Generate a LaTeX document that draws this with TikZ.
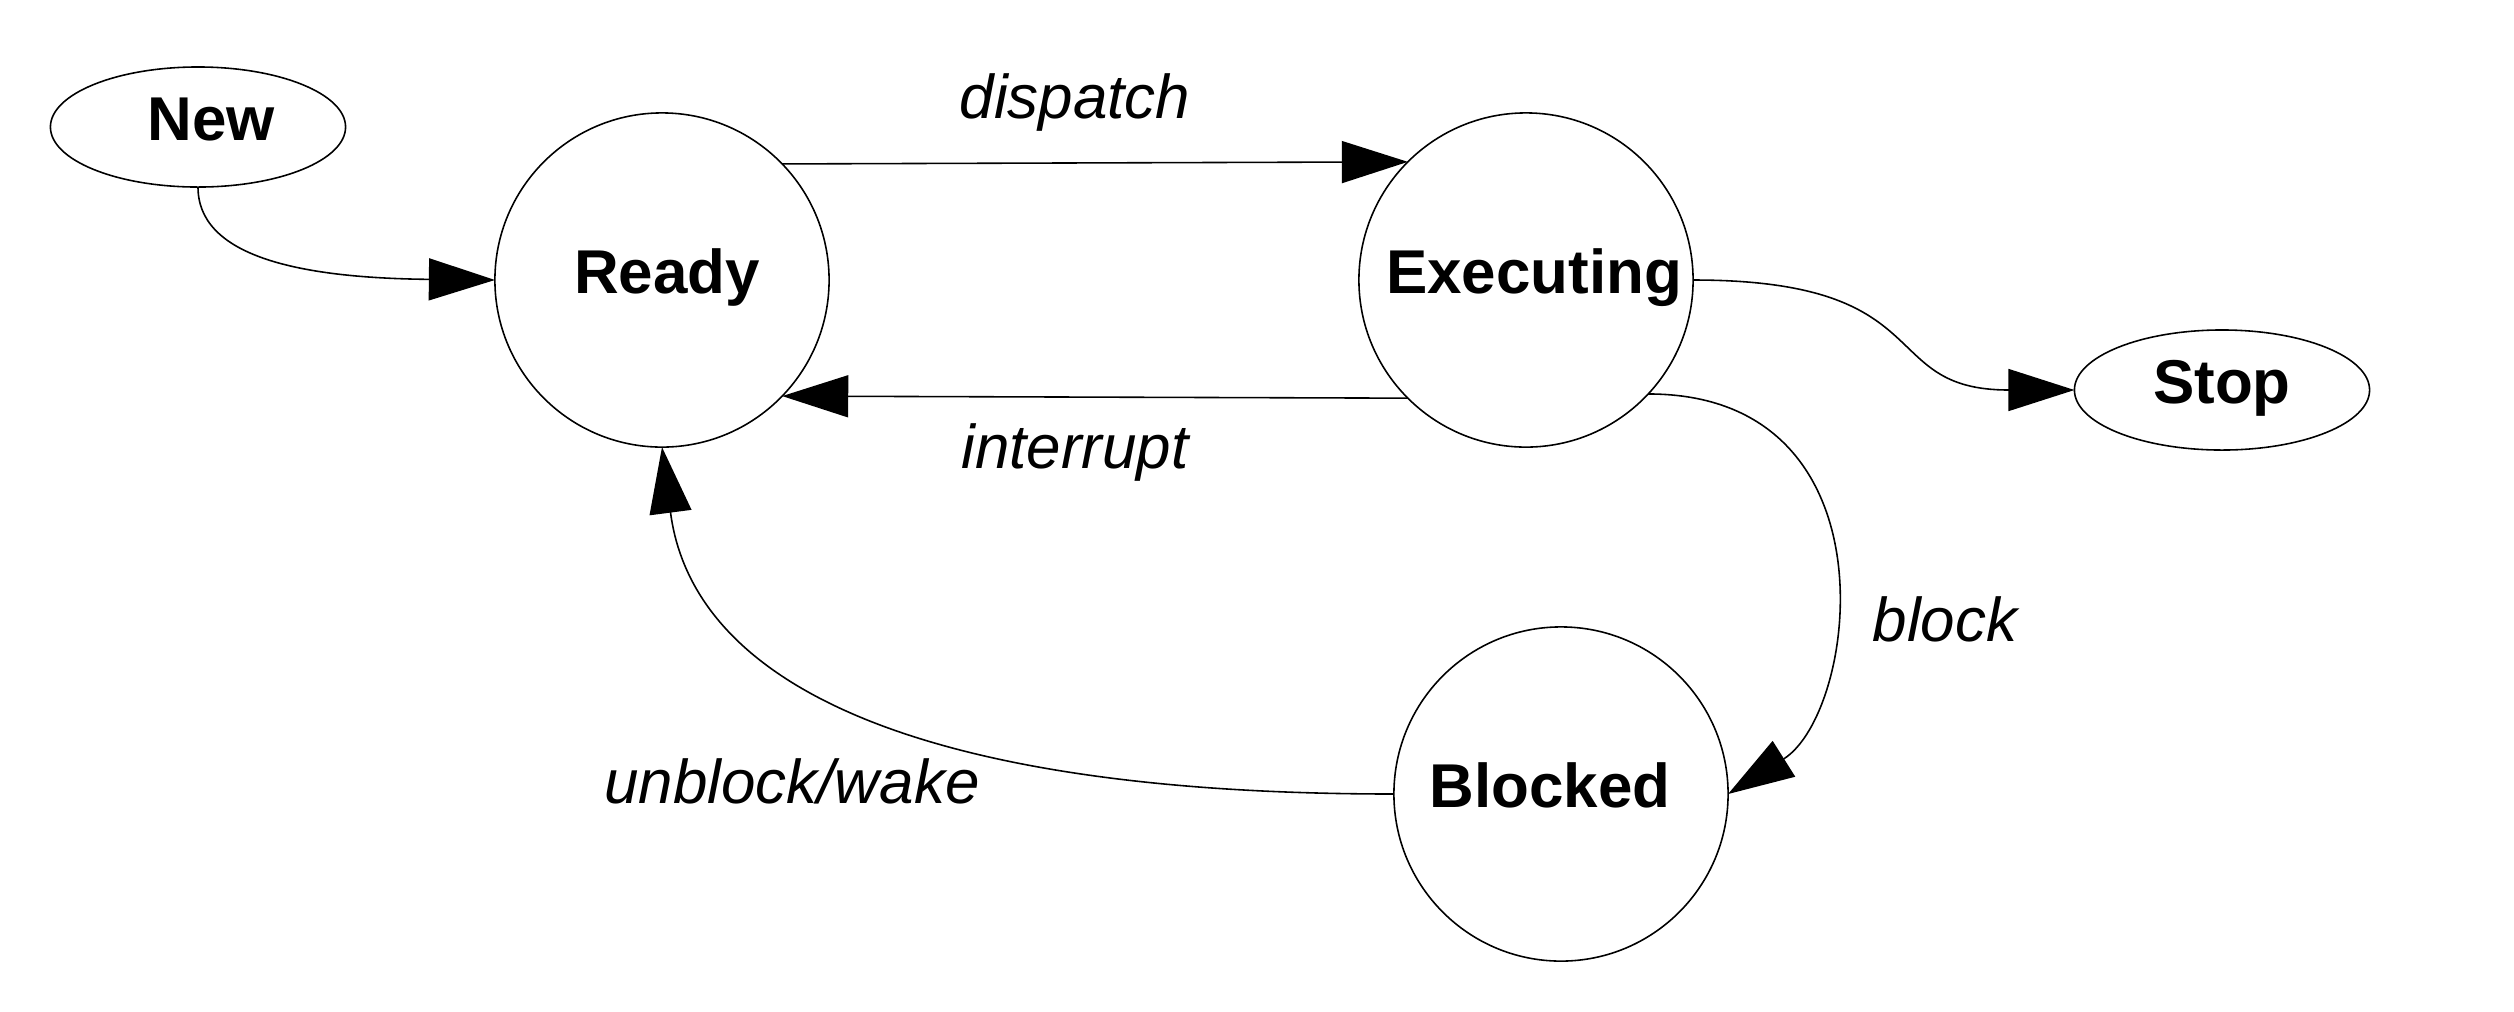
\documentclass[tikz,border=0pt]{standalone}
\usepackage{fontspec}
\setmainfont{Liberation Sans}
\usetikzlibrary{arrows.meta,shapes.geometric}
\begin{document}
\begin{tikzpicture}[x=0.01cm,y=-0.01cm,
  every node/.style={outer sep=0pt},
  state/.style={draw, circle, minimum size=3.34cm, inner sep=0pt, line width=0.45pt,
    text height=0.44cm, text depth=0.18cm, font=\bfseries\fontsize{17.6}{20}\selectfont},
  term/.style={draw, ellipse, minimum width=2.95cm, minimum height=1.2cm, inner sep=0pt, line width=0.45pt,
    text height=0.44cm, text depth=0.18cm, font=\bfseries\fontsize{17.6}{20}\selectfont},
  lbl/.style={inner sep=0pt, anchor=base, font=\itshape\fontsize{17.6}{20}\selectfont},
  arr/.style={line width=0.45pt, -{Triangle[length=0.66cm,width=0.42cm]}}]
\useasboundingbox (0,0) rectangle (2514,1011);
\node[term]  (New)   at (198,127)  {\hspace*{0.26cm}New};
\node[state] (Ready) at (662,280)  {\hspace*{0.1cm}Ready};
\node[state] (Exec)  at (1526,280) {\hspace*{0.16cm}Executing};
\node[term]  (Stop)  at (2222,390) {Stop};
\node[state] (Blk)   at (1561,794) {Blocked\hspace*{0.22cm}};

\node[lbl] (Ldisp)  at (1075,118) {dispatch};
\node[lbl] (Lint)   at (1075,468) {interrupt};
\node[lbl] (Lblock) at (1945,641) {block};
\node[lbl] (Lwake)  at (792,803)  {unblock/wake};

\draw[arr] (New.south) .. controls +(0,68) and +(-200,-2) .. (Ready.west);
\draw[arr] (Ready.44.5) -- (Exec.135.5);
\draw[arr] (Exec.-135.5) -- (Ready.-44.5);
\draw[arr] (Exec.east) .. controls +(250,0) and +(-200,0) .. (Stop.west);
\draw[arr] (Exec.-43) .. controls +(250,0) and +(130,-82) .. (Blk.east);
\draw[arr] (Blk.west) .. controls +(-494,0) and +(30,230) .. (Ready.south);
\end{tikzpicture}
\end{document}
